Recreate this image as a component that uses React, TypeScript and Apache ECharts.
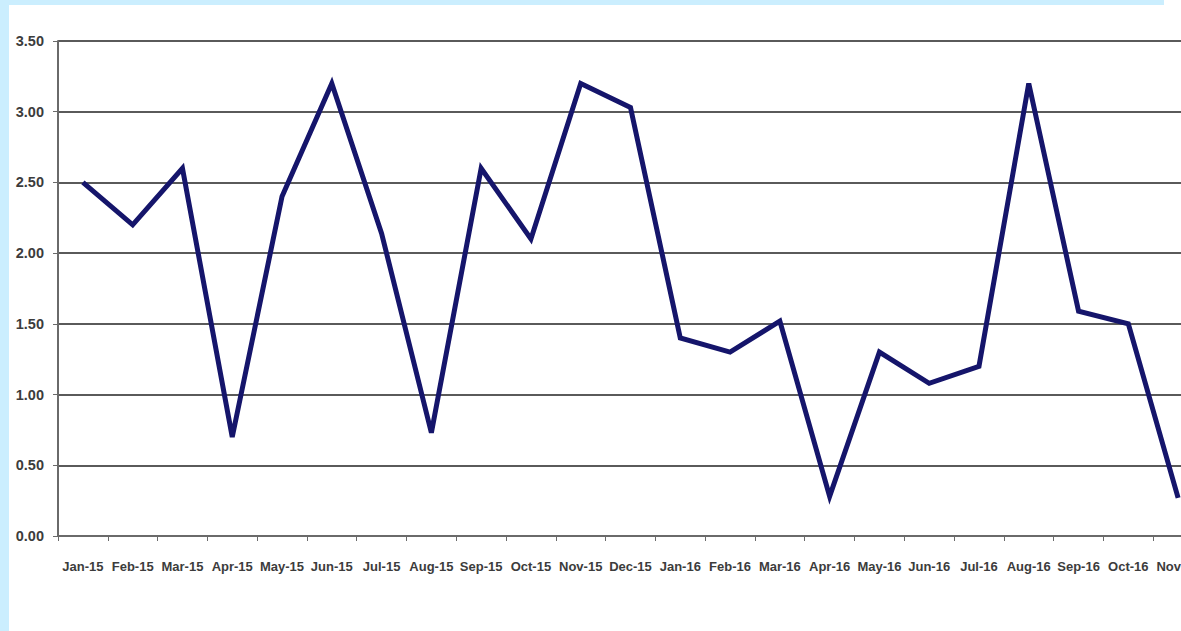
import React, { useEffect, useRef } from "react";
import * as echarts from "echarts";

const categories = [
  "Jan-15", "Feb-15", "Mar-15", "Apr-15", "May-15", "Jun-15", "Jul-15", "Aug-15",
  "Sep-15", "Oct-15", "Nov-15", "Dec-15", "Jan-16", "Feb-16", "Mar-16", "Apr-16",
  "May-16", "Jun-16", "Jul-16", "Aug-16", "Sep-16", "Oct-16", "Nov-16",
];

const values = [
  2.5, 2.2, 2.6, 0.7, 2.4, 3.2, 2.14, 0.73,
  2.6, 2.1, 3.2, 3.03, 1.4, 1.3, 1.52, 0.28,
  1.3, 1.08, 1.2, 3.2, 1.59, 1.5, 0.27,
];

const yMin = 0;
const yMax = 3.5;
const yStep = 0.5;

export default function App() {
  const ref = useRef<HTMLDivElement>(null);

  useEffect(() => {
    if (!ref.current) return;
    const chart = echarts.init(ref.current, undefined, { renderer: "svg" });
    const fontFamily = "'Liberation Sans', Arial, sans-serif";
    chart.setOption({
      animation: false,
      backgroundColor: "#ffffff",
      grid: { left: 58, top: 41, width: 1145, height: 495, containLabel: false },
      xAxis: {
        type: "category",
        data: categories,
        boundaryGap: true,
        axisLine: { show: true, lineStyle: { color: "#6a6a6a", width: 2 } },
        axisTick: { show: true, length: 5, lineStyle: { color: "#6a6a6a", width: 1 } },
        axisLabel: {
          interval: 0,
          margin: 24,
          fontFamily,
          fontWeight: "bold",
          fontSize: 13,
          color: "#3c3c3c",
        },
        splitLine: { show: false },
      },
      yAxis: {
        type: "value",
        min: yMin,
        max: yMax,
        interval: yStep,
        axisLine: { show: true, lineStyle: { color: "#6a6a6a", width: 2 } },
        axisTick: { show: true, length: 5, lineStyle: { color: "#6a6a6a", width: 1 } },
        axisLabel: {
          margin: 14,
          formatter: (v: number) => v.toFixed(2),
          fontFamily,
          fontWeight: "bold",
          fontSize: 14.5,
          color: "#3c3c3c",
        },
        splitLine: { show: true, lineStyle: { color: "#5a5a5a", width: 2 } },
      },
      graphic: [
        { type: "rect", shape: { x: 0, y: 0, width: 9, height: 631 }, style: { fill: "#cbeefe" }, z: 100 },
        { type: "rect", shape: { x: 0, y: 0, width: 1164, height: 5 }, style: { fill: "#cbeefe" }, z: 100 },
      ],
      series: [
        {
          type: "line",
          data: values,
          symbol: "none",
          lineStyle: { color: "#15156b", width: 5, join: "miter" },
          itemStyle: { color: "#15156b" },
        },
      ],
    });
    return () => chart.dispose();
  }, []);

  return (
    <div
      style={{
        position: "fixed",
        left: 0,
        top: 0,
        width: 1181,
        height: 631,
        overflow: "hidden",
        background: "#fff",
      }}
    >
      <div ref={ref} style={{ width: 1215, height: 631 }} />
    </div>
  );
}
